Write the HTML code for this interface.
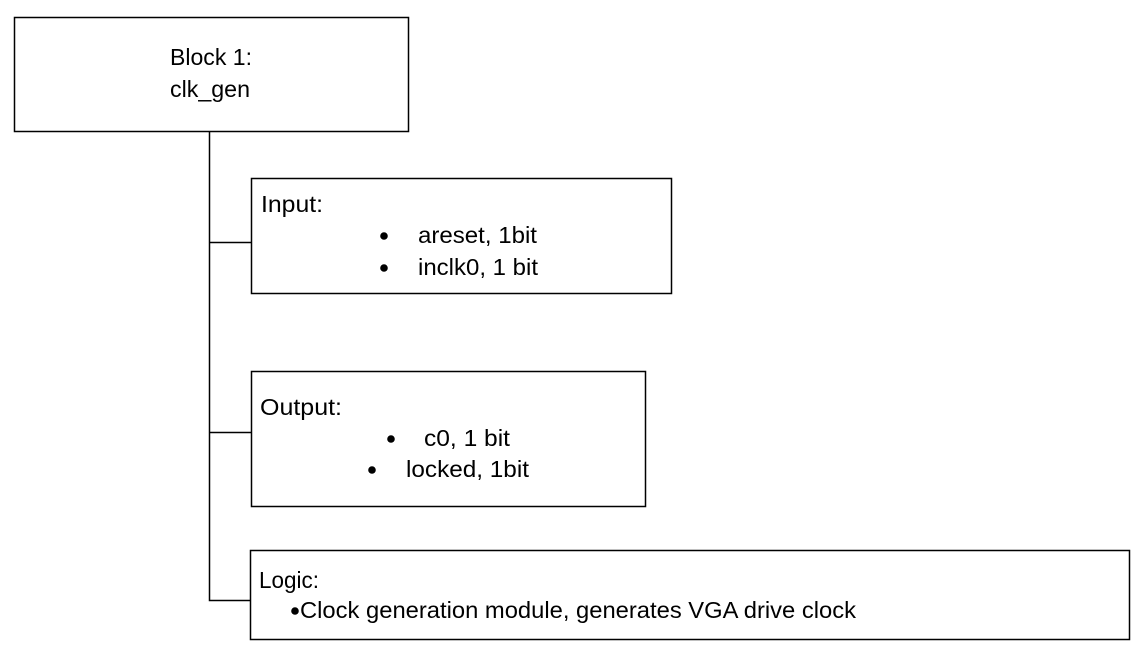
<!DOCTYPE html>
<html><head><meta charset="utf-8"><style>
html,body{margin:0;padding:0;background:#fff;}
svg{display:block;}
text{font-family:"Liberation Sans",sans-serif;font-size:23px;fill:#000;}
</style></head><body>
<svg width="1140" height="654" viewBox="0 0 1140 654" xmlns="http://www.w3.org/2000/svg">
<g fill="none" stroke="#000" stroke-width="1.5">
<rect x="14.5" y="17.5" width="394" height="114"/>
<rect x="251.5" y="178.5" width="420" height="115"/>
<rect x="251.5" y="371.5" width="394" height="135"/>
<rect x="250.5" y="550.5" width="879" height="89"/>
<polyline points="209.5,131 209.5,600.5 250,600.5"/>
<line x1="209.5" y1="242.5" x2="251" y2="242.5"/>
<line x1="209.5" y1="432.5" x2="251" y2="432.5"/>
</g>
<text x="170" y="65" textLength="82" lengthAdjust="spacingAndGlyphs">Block 1:</text>
<text x="170" y="97" textLength="80" lengthAdjust="spacingAndGlyphs">clk_gen</text>
<text x="261" y="212" textLength="62" lengthAdjust="spacingAndGlyphs">Input:</text>
<circle cx="384" cy="236" r="3.8"/>
<text x="418" y="243" textLength="119" lengthAdjust="spacingAndGlyphs">areset, 1bit</text>
<circle cx="384" cy="268" r="3.8"/>
<text x="418" y="275" textLength="120" lengthAdjust="spacingAndGlyphs">inclk0, 1 bit</text>
<text x="260" y="415" textLength="82" lengthAdjust="spacingAndGlyphs">Output:</text>
<circle cx="391" cy="439" r="3.8"/>
<text x="424" y="446" textLength="86" lengthAdjust="spacingAndGlyphs">c0, 1 bit</text>
<circle cx="372" cy="470" r="3.8"/>
<text x="406" y="477" textLength="123" lengthAdjust="spacingAndGlyphs">locked, 1bit</text>
<text x="259" y="588" textLength="60" lengthAdjust="spacingAndGlyphs">Logic:</text>
<circle cx="295" cy="611" r="3.8"/>
<text x="300" y="618" textLength="556" lengthAdjust="spacingAndGlyphs">Clock generation module, generates VGA drive clock</text>
</svg>
</body></html>
